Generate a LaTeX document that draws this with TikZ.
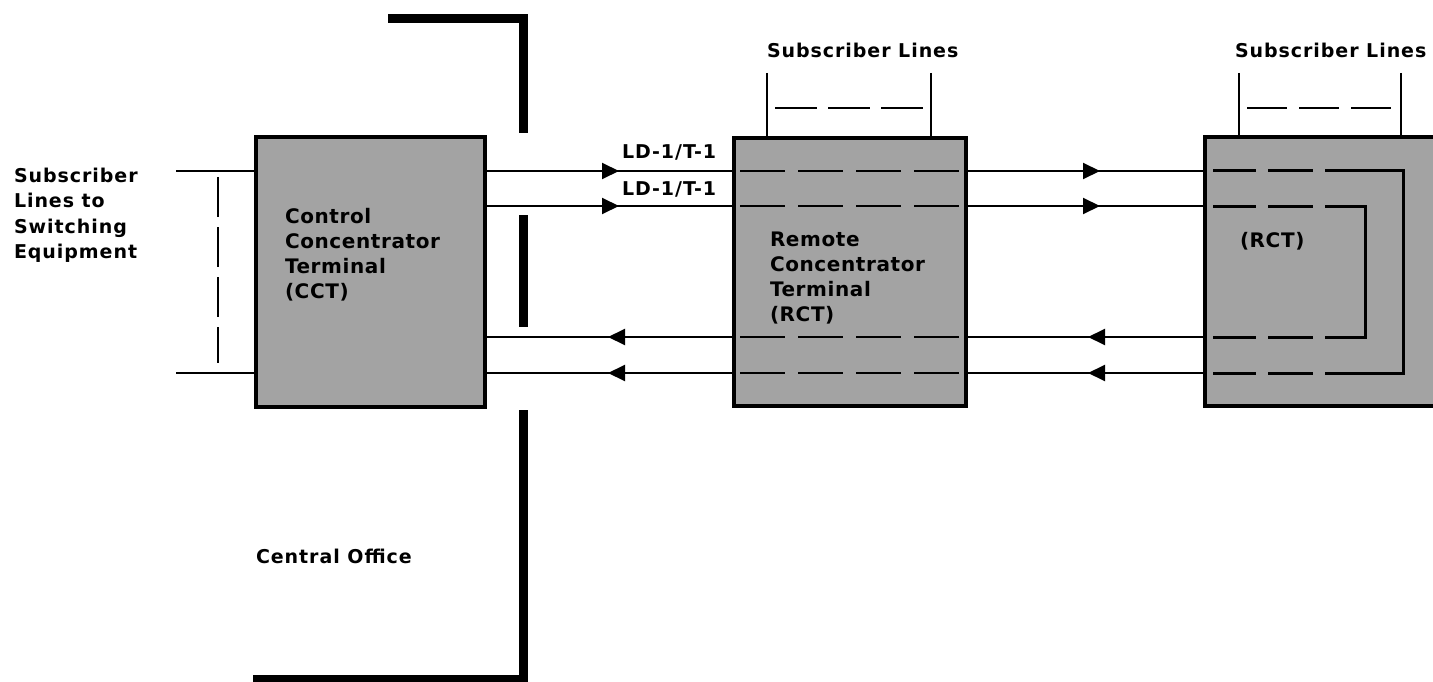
\documentclass[tikz,border=0pt]{standalone}
\usepackage{fontspec}
\newfontfamily\lab{DejaVu Sans}[LetterSpace=5]
\newfontfamily\boxlab{DejaVu Sans}[LetterSpace=3]
\usetikzlibrary{arrows.meta,decorations.markings}
\tikzset{
  unitbox/.style={draw=black, line width=4pt, fill=black!36, rectangle, inner sep=0pt, outer sep=0pt, anchor=north west},
  txt/.style={inner sep=0pt, outer sep=0pt, font=\lab\bfseries\fontsize{19}{25}\selectfont, align=left},
  btxt/.style={inner sep=0pt, outer sep=0pt, font=\boxlab\bfseries\fontsize{20}{25}\selectfont, align=left},
  link/.style={draw=black, line width=2pt},
  inner/.style={draw=black, line width=2.5pt, dash pattern=on 45pt off 13pt},
  wall/.style={draw=black, line width=9pt, line cap=butt, line join=miter},
  fwd/.style={postaction={decorate}, decoration={markings, mark=at position #1 with {\arrow{Triangle[length=17pt,width=16pt]}}}},
}
\begin{document}
\begin{tikzpicture}[x=1pt,y=-1pt]
\useasboundingbox[fill=white] (0,0) rectangle (1433,682);
\begin{scope}
\clip (0,0) rectangle (1433,682);

% level coordinates
\coordinate (l1) at (0,171);
\coordinate (l2) at (0,206);
\coordinate (l3) at (0,337);
\coordinate (l4) at (0,373);

% boxes
\node[unitbox, minimum width=229pt, minimum height=270pt] (cct) at (256,137) {};
\node[unitbox, minimum width=232pt, minimum height=268pt] (rct1) at (734,138) {};
\node[unitbox, minimum width=240pt, minimum height=269pt] (rct2) at (1205,137) {};

% box texts
\node[btxt, anchor=north west] (cctt) at (285,208) {Control\\Concentrator\\Terminal\\(CCT)};
\node[btxt, anchor=north west] (rctt) at (770,232) {Remote\\Concentrator\\Terminal\\(RCT)};
\node[btxt, anchor=base west] (rct2t) at (1240,247) {(RCT)};

% left label and lines
\node[txt, anchor=north west, font=\lab\bfseries\fontsize{19}{25.3}\selectfont] (sw) at (14,168) {Subscriber\\Lines to\\Switching\\Equipment};
\coordinate (sl1) at (176,171);
\coordinate (sl4) at (176,373);
\draw[link] (sl1) -- (cct.west |- l1);
\draw[link] (sl4) -- (cct.west |- l4);
\coordinate (d1) at (218,177);
\coordinate (d2) at (218,363);
\draw[draw=black, line width=2pt, dash pattern=on 40pt off 10pt] (d1) -- (d2);

% CCT <-> RCT1
\draw[link, fwd=134pt] (cct.east |- l1) -- (rct1.west |- l1);
\draw[link, fwd=134pt] (cct.east |- l2) -- (rct1.west |- l2);
\draw[link, fwd=126pt] (rct1.west |- l3) -- (cct.east |- l3);
\draw[link, fwd=126pt] (rct1.west |- l4) -- (cct.east |- l4);
\node[txt, anchor=base west] (ld1) at (622,159) {LD-1/T-1};
\node[txt, anchor=base west] (ld2) at (622,196) {LD-1/T-1};

% RCT1 <-> RCT2
\draw[link, fwd=134pt] (rct1.east |- l1) -- (rct2.west |- l1);
\draw[link, fwd=134pt] (rct1.east |- l2) -- (rct2.west |- l2);
\draw[link, fwd=117pt] (rct2.west |- l3) -- (rct1.east |- l3);
\draw[link, fwd=117pt] (rct2.west |- l4) -- (rct1.east |- l4);

% dashed through RCT1
\foreach \l in {l1,l2,l3,l4}{
  \draw[inner] (740,0 |- \l) -- (962,0 |- \l);
}

% subscriber lines above RCT1
\node[txt, anchor=base west] (sub1) at (767,58) {Subscriber Lines};
\coordinate (a1) at (767,73);
\coordinate (a2) at (931,73);
\draw[link] (a1) -- (rct1.north -| a1);
\draw[link] (a2) -- (rct1.north -| a2);
\coordinate (b1) at (775,108);
\coordinate (b2) at (925,108);
\draw[draw=black, line width=2.5pt, dash pattern=on 42pt off 11pt] (b1) -- (b2);

% subscriber lines above RCT2
\node[txt, anchor=base west] (sub2) at (1235,58) {Subscriber Lines};
\coordinate (c1) at (1239,73);
\coordinate (c2) at (1401,73);
\draw[link] (c1) -- (rct2.north -| c1);
\draw[link] (c2) -- (rct2.north -| c2);
\coordinate (e1) at (1247,108);
\coordinate (e2) at (1392,108);
\draw[draw=black, line width=2.5pt, dash pattern=on 40pt off 12pt] (e1) -- (e2);

% loops inside RCT2
\begin{scope}[line width=3pt, line join=miter]
  \draw (1213,171) -- (1256,171) (1268,171) -- (1313,171);
  \draw (1325,171) -- (1403,171) -- (1403,373) -- (1325,373);
  \draw (1213,373) -- (1256,373) (1268,373) -- (1313,373);
  \draw (1213,206) -- (1256,206) (1268,206) -- (1313,206);
  \draw (1325,206) -- (1365,206) -- (1365,337) -- (1325,337);
  \draw (1213,337) -- (1256,337) (1268,337) -- (1313,337);
\end{scope}

% central office wall
\draw[wall] (388,19) -- (523,19) -- (523,133);
\draw[wall] (523,215) -- (523,327);
\draw[wall] (523,410) -- (523,679) -- (253,679);
\node[txt, anchor=base west] (co) at (256,563) {Central Office};
\end{scope}
\end{tikzpicture}
\end{document}
